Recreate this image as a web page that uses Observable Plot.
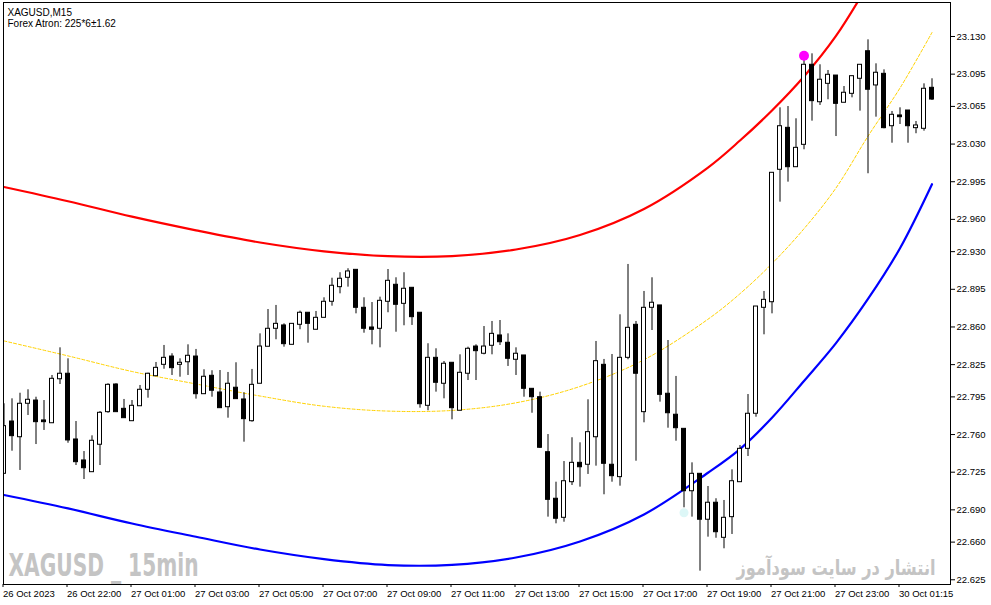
<!DOCTYPE html>
<html>
<head>
<meta charset="utf-8">
<script src="https://cdn.jsdelivr.net/npm/d3@7"></script>
<script src="https://cdn.jsdelivr.net/npm/@observablehq/plot@0.6"></script>
<style>
  html, body { margin: 0; padding: 0; background: #fff; }
  #chart { width: 991px; height: 605px; overflow: hidden; }
</style>
</head>
<body>
<div id="chart"></div>
<script>
// ---- Candles (XAGUSD M15), index 0..116 ----
const open = [22.7235,22.7721,22.7575,22.7886,22.7916,22.7731,22.7705,22.8114,22.8165,22.7554,
  22.7359,22.7250,22.7505,22.7808,22.8065,22.7839,22.7724,22.7863,22.8016,22.8142,
  22.8248,22.8325,22.8248,22.8272,22.8325,22.7975,22.8146,22.7991,22.7854,22.8035,
  22.7926,22.7724,22.8072,22.8416,22.8583,22.8614,22.8434,22.8620,22.8732,22.8574,
  22.8685,22.8834,22.8970,22.9057,22.9131,22.8778,22.8595,22.8583,22.8834,22.8992,
  22.8815,22.8964,22.8732,22.7867,22.8313,22.8072,22.8267,22.7821,22.8165,22.8418,
  22.8351,22.8425,22.8521,22.8453,22.8295,22.8335,22.8025,22.7947,22.7436,22.7003,
  22.6826,22.7157,22.7337,22.7319,22.7575,22.8248,22.7319,22.7204,22.8313,22.8620,
  22.7808,22.8778,22.8800,22.7979,22.7784,22.7653,22.7073,22.7235,22.6808,22.6966,
  22.6640,22.6832,22.7157,22.7467,22.7793,22.8778,22.8830,23.0061,23.0451,23.0085,
  23.0293,23.1037,23.0689,23.0860,23.0937,23.0684,23.0767,23.0907,23.1163,23.0845,
  23.0953,23.0466,23.0566,23.0612,23.0448,23.0442,23.0823];
const high = [22.7886,22.7932,22.7984,22.8016,22.7947,22.7916,22.8149,22.8406,22.8304,22.7721,
  22.7442,22.7588,22.7814,22.8072,22.8072,22.7926,22.7916,22.8056,22.8170,22.8270,
  22.8428,22.8351,22.8304,22.8434,22.8391,22.8202,22.8193,22.8195,22.8177,22.8267,
  22.7988,22.8205,22.8536,22.8762,22.8800,22.8629,22.8629,22.8747,22.8732,22.8744,
  22.8871,22.9053,22.9104,22.9141,22.9131,22.8871,22.8827,22.8877,22.9134,22.9057,
  22.9104,22.8964,22.8732,22.8444,22.8397,22.8279,22.8267,22.8341,22.8412,22.8434,
  22.8604,22.8651,22.8660,22.8536,22.8406,22.8335,22.8025,22.7994,22.7600,22.7157,
  22.7349,22.7570,22.7523,22.7923,22.8465,22.8298,22.8344,22.8713,22.9181,22.8651,
  22.8930,22.9057,22.8800,22.8474,22.8140,22.7653,22.7337,22.7235,22.7117,22.7003,
  22.6987,22.7272,22.7498,22.7972,22.7793,22.8930,23.0033,23.0637,23.0649,23.0535,
  23.1077,23.1139,23.1037,23.0984,23.0937,23.0835,23.0931,23.1037,23.1269,23.1046,
  23.0990,23.0603,23.0637,23.0612,23.0510,23.0860,23.0907];
const low = [22.7235,22.7445,22.7266,22.7777,22.7507,22.7638,22.7705,22.8065,22.7519,22.7312,
  22.7182,22.7250,22.7312,22.7798,22.7808,22.7752,22.7724,22.7863,22.7938,22.8142,
  22.8207,22.8149,22.8133,22.8149,22.7929,22.7975,22.7947,22.7845,22.7752,22.7929,
  22.7529,22.7715,22.8072,22.8416,22.8481,22.8412,22.8434,22.8574,22.8449,22.8574,
  22.8685,22.8793,22.8908,22.8970,22.8722,22.8542,22.8434,22.8406,22.8732,22.8551,
  22.8611,22.8614,22.7845,22.7821,22.7994,22.7932,22.7737,22.7821,22.8102,22.8102,
  22.8341,22.8341,22.8428,22.8233,22.8149,22.7947,22.7798,22.7470,22.6832,22.6770,
  22.6785,22.7126,22.7111,22.7229,22.7306,22.7040,22.7157,22.7120,22.8295,22.7352,
  22.7709,22.8567,22.7901,22.7659,22.7538,22.6919,22.6832,22.6330,22.6646,22.6636,
  22.6538,22.6671,22.7157,22.7396,22.7761,22.8527,22.8722,22.9760,22.9946,23.0085,
  23.0247,23.0513,23.0659,23.0712,23.0370,23.0684,23.0730,23.0606,23.0024,23.0550,
  23.0442,23.0308,23.0482,23.0308,23.0396,23.0420,23.0705];
const close = [22.7678,22.7585,22.7886,22.7923,22.7715,22.7715,22.8118,22.8165,22.7545,22.7343,
  22.7287,22.7542,22.7802,22.8062,22.7808,22.7752,22.7867,22.8016,22.8165,22.8220,
  22.8313,22.8217,22.8267,22.8332,22.7975,22.8137,22.8007,22.7845,22.8072,22.7929,
  22.7743,22.8062,22.8418,22.8583,22.8629,22.8440,22.8629,22.8732,22.8629,22.8685,
  22.8834,22.8983,22.9048,22.9116,22.8778,22.8583,22.8574,22.8843,22.9029,22.8806,
  22.8955,22.8691,22.7882,22.8313,22.8081,22.8258,22.7845,22.8174,22.8397,22.8375,
  22.8418,22.8536,22.8458,22.8304,22.8351,22.8025,22.7947,22.7477,22.6993,22.6817,
  22.7166,22.7337,22.7296,22.7622,22.8282,22.7328,22.7213,22.8313,22.8592,22.8165,
  22.8778,22.8825,22.7969,22.7798,22.7659,22.7073,22.7235,22.6808,22.6966,22.6692,
  22.6826,22.7166,22.7467,22.7793,22.8790,22.8852,23.0033,23.0466,23.0085,23.0265,
  23.1037,23.0699,23.0898,23.0944,23.0674,23.0777,23.0931,23.1037,23.0805,23.0963,
  23.0448,23.0572,23.0550,23.0466,23.0473,23.0814,23.0714];

// ---- Forex Atron bands (read at candle indices) ----
const bandIdx  = [0,8,16,24,32,40,48,56,64,72,80,88,92,96,100,104,108,112,116];
const upper    = [22.9901,22.9769,22.9625,22.9498,22.9385,22.9303,22.9258,22.9259,22.9320,22.9455,
                  22.9697,23.0082,23.0333,23.0612,23.0928,23.1305,23.1783];
const middle   = [22.8470,22.8331,22.8186,22.8070,22.7958,22.7863,22.7818,22.7824,22.7895,22.8047,
                  22.8295,22.8672,22.8909,22.9189,22.9513,22.9892,23.0373,23.0821,23.1337];
const lower    = [22.7038,22.6913,22.6773,22.6650,22.6531,22.6442,22.6387,22.6389,22.6457,22.6606,
                  22.6857,22.7245,22.7465,22.7756,22.8098,22.8450,22.8860,22.9332,22.9927];

// ---- Signals ----
const sellIdx = [100], sellPrice = [23.1121];
const buyIdx  = [85],  buyPrice  = [22.6873];

// ---- Axes ----
const yTicks = [22.625,22.660,22.690,22.725,22.760,22.795,22.825,22.860,22.895,22.930,22.960,22.995,23.030,23.065,23.095,23.130];
const xTickIdx = [0,8,16,24,32,40,48,56,64,72,80,88,96,104,112];
const xLabels = ["26 Oct 2023","26 Oct 22:00","27 Oct 01:00","27 Oct 03:00","27 Oct 05:00","27 Oct 07:00",
  "27 Oct 09:00","27 Oct 11:00","27 Oct 13:00","27 Oct 15:00","27 Oct 17:00","27 Oct 19:00",
  "27 Oct 21:00","27 Oct 23:00","30 Oct 01:15"];

const titleLines = ["XAGUSD,M15", "Forex Atron: 225*6±1.62"];
const watermarkLeft = "XAGUSD _ 15min";
const watermarkRight = "انتشار در سایت سودآموز";

// ---- Build tables ----
const candles = open.map((o, i) => ({k: i, o, h: high[i], l: low[i], c: close[i]}));
const upperData  = upper.map((p, i) => ({k: bandIdx[i], p}));
const middleData = middle.map((p, i) => ({k: bandIdx[i], p}));
const lowerData  = lower.map((p, i) => ({k: bandIdx[i], p}));
const sells = sellIdx.map((k, i) => ({k, p: sellPrice[i]}));
const buys  = buyIdx.map((k, i) => ({k, p: buyPrice[i]}));
const xLabelMap = new Map(xTickIdx.map((k, i) => [k, xLabels[i]]));

const plot = Plot.plot({
  width: 991,
  height: 605,
  marginLeft: 3,
  marginRight: 41,
  marginTop: 2,
  marginBottom: 21,
  style: {fontFamily: "'Liberation Sans', Arial, sans-serif", fontSize: "9.5px", color: "#000", background: "#fff", overflow: "visible"},
  x: {domain: [-0.0625, 118.3125], axis: null},
  y: {domain: [22.6206, 23.1616], axis: null},
  marks: [
    // bands
    Plot.line(middleData, {x: "k", y: "p", stroke: "#FFD200", strokeWidth: 1, strokeDasharray: "3,2", curve: "catmull-rom", clip: true}),
    Plot.line(upperData, {x: "k", y: "p", stroke: "#FF0000", strokeWidth: 2.2, curve: "catmull-rom", clip: true}),
    Plot.line(lowerData, {x: "k", y: "p", stroke: "#0000FF", strokeWidth: 2.2, curve: "catmull-rom", clip: true}),
    // signals
    Plot.dot(buys, {x: "k", y: "p", r: 4.5, fill: "#DDF7F7", stroke: "none"}),
    // candles
    Plot.ruleX(candles, {x: "k", y1: "l", y2: "h", stroke: "#000", strokeWidth: 1, clip: true}),
    Plot.rect(candles, {x1: d => d.k - 0.25, x2: d => d.k + 0.25, y1: "o", y2: "c",
      fill: d => d.c >= d.o ? "#fff" : "#000", stroke: "#000", strokeWidth: 1, clip: true}),
    Plot.dot(sells, {x: "k", y: "p", r: 5, fill: "#FF00FF", stroke: "none"}),
    // frame & axes
    Plot.frame({stroke: "#000", strokeWidth: 1}),
    Plot.axisY({anchor: "right", label: null, ticks: yTicks, tickFormat: d3.format(".3f"), tickSize: 4, tickPadding: 2, fill: "#000", stroke: "#000"}),
    Plot.axisX({anchor: "bottom", label: null, ticks: xTickIdx, tickFormat: d => xLabelMap.get(d), tickSize: 3, tickPadding: 3, textAnchor: "start", dx: -1, fill: "#000", stroke: "#000"}),
    // texts
    Plot.text([titleLines[0]], {text: d => d, frameAnchor: "top-left", lineAnchor: "top", textAnchor: "start", dx: 4, dy: 6, fill: "#000", fontSize: 10}),
    Plot.text([titleLines[1]], {text: d => d, frameAnchor: "top-left", lineAnchor: "top", textAnchor: "start", dx: 4, dy: 17.5, fill: "#000", fontSize: 10}),
    Plot.text([watermarkLeft], {text: d => d, frameAnchor: "bottom-left", lineAnchor: "bottom", textAnchor: "start", dx: 5, dy: -9,
      fill: "#C4C4C4", fontSize: 32, fontWeight: "bold", fontFamily: "'Liberation Sans Narrow','DejaVu Sans Condensed','Liberation Sans',sans-serif"}),
    Plot.text([watermarkRight], {text: d => d, frameAnchor: "bottom-right", lineAnchor: "bottom", textAnchor: "end", dx: -15, dy: -10,
      fill: "#C4C4C4", fontSize: 21, fontWeight: "bold", fontFamily: "'DejaVu Sans',sans-serif"})
  ]
});

// fit watermark widths
d3.select(plot).selectAll("text").each(function() {
  const t = this.textContent;
  if (t === watermarkLeft) { this.setAttribute("textLength", 190); this.setAttribute("lengthAdjust", "spacingAndGlyphs"); }
  if (t === watermarkRight) { this.setAttribute("textLength", 199); this.setAttribute("lengthAdjust", "spacingAndGlyphs"); }
});

document.getElementById("chart").appendChild(plot);
</script>
</body>
</html>
